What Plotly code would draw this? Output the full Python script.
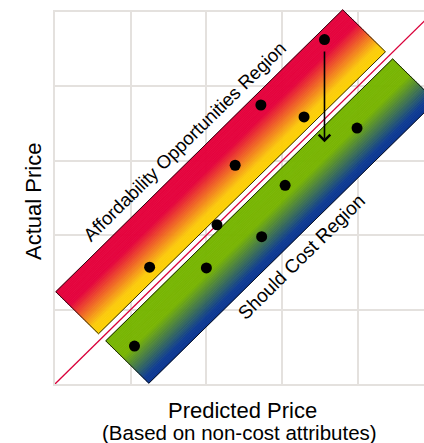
import numpy as np
import plotly.graph_objects as go

# ---- data ----
pred_price = [3.56, 2.72, 3.29, 2.38, 3.99, 3.04, 2.14, 1.25, 2.73, 2.00, 1.05]
actual_price = [4.63, 3.75, 3.59, 2.94, 3.44, 2.67, 2.14, 1.57, 1.98, 1.56, 0.51]

# regions as offsets from the parity line (actual - predicted) and extent along it (actual + predicted)
upper_offsets = [1.23, 0.10]     # outer edge, inner edge
lower_offsets = [-1.23, -0.09]   # outer edge, inner edge
region_extent = [1.25, 8.83]
upper_colors = [(0.0, "#E4003B"), (0.33, "#E4003B"), (0.85, "#FBCB0A"), (1.0, "#FCD000")]   # outer -> inner
lower_colors = [(0.0, "#08338F"), (0.12, "#0C3A92"), (0.62, "#77B400"), (1.0, "#76B500")]   # outer -> inner

parity = [0, 6]
arrow_x = 3.56
arrow_from = 4.49
arrow_to = 3.25

upper_label = "Affordability Opportunities Region"
lower_label = "Should Cost Region"
upper_label_pos = (1.71, 3.26)
lower_label_pos = (3.26, 1.71)

x_title = "Predicted Price"
x_subtitle = "(Based on non-cost attributes)"
y_title = "Actual Price"

# ---- helpers ----
def hex2rgb(h):
    h = h.lstrip("#")
    return np.array([int(h[i:i + 2], 16) for i in (0, 2, 4)], dtype=float)

def interp_color(stops, t):
    for (t0, c0), (t1, c1) in zip(stops[:-1], stops[1:]):
        if t0 <= t <= t1:
            f = 0 if t1 == t0 else (t - t0) / (t1 - t0)
            c = hex2rgb(c0) * (1 - f) + hex2rgb(c1) * f
            return "rgb(%d,%d,%d)" % tuple(np.round(c))
    return stops[-1][1]

def to_xy(s, v):
    return (s - v) / 2.0, (s + v) / 2.0

fig = go.Figure()

# grid subplot (x, y)
fig.add_trace(go.Scatter(x=[None], y=[None], xaxis="x", yaxis="y", showlegend=False, hoverinfo="skip"))

def add_band(offsets, stops, n=60):
    v_out, v_in = offsets
    s0, s1 = region_extent
    for i in range(n):
        t0, t1 = i / n, (i + 1) / n
        va = v_out + (v_in - v_out) * t0
        vb = v_out + (v_in - v_out) * t1
        col = interp_color(stops, (t0 + t1) / 2)
        pts = [to_xy(s0, va), to_xy(s1, va), to_xy(s1, vb), to_xy(s0, vb), to_xy(s0, va)]
        fig.add_trace(go.Scatter(
            x=[p[0] for p in pts], y=[p[1] for p in pts], mode="lines", fill="toself",
            fillcolor=col, line=dict(color=col, width=0.8), xaxis="x2", yaxis="y2",
            showlegend=False, hoverinfo="skip"))
    pts = [to_xy(s0, v_out), to_xy(s1, v_out), to_xy(s1, v_in), to_xy(s0, v_in), to_xy(s0, v_out)]
    fig.add_trace(go.Scatter(
        x=[p[0] for p in pts], y=[p[1] for p in pts], mode="lines",
        line=dict(color="black", width=0.8), xaxis="x2", yaxis="y2",
        showlegend=False, hoverinfo="skip"))

add_band(upper_offsets, upper_colors)
add_band(lower_offsets, lower_colors)

# parity line
fig.add_trace(go.Scatter(x=parity, y=parity, mode="lines", line=dict(color="#D9003A", width=1.3),
                         xaxis="x2", yaxis="y2", showlegend=False, hoverinfo="skip"))

# points
fig.add_trace(go.Scatter(x=pred_price, y=actual_price, mode="markers",
                         marker=dict(color="black", size=11), xaxis="x2", yaxis="y2",
                         showlegend=False, hoverinfo="skip"))

FONT = "Liberation Sans, Arial, Helvetica, sans-serif"

# pixel geometry
W, H = 424, 443
L, R, T, B = 55, 0, 0, 59
plot_h = H - T - B                # 384 px
px_per_y = 74.4
px_per_x = 75.7
y_top_px = 5 * px_per_y           # 372
x_max = (W - L - R) / px_per_x

annotations = [
    dict(x=arrow_x, y=arrow_to, ax=arrow_x, ay=arrow_from, xref="x2", yref="y2", axref="x2", ayref="y2",
         showarrow=True, arrowhead=4, arrowsize=1.4, arrowwidth=1.6, arrowcolor="black", text=""),
    dict(x=upper_label_pos[0], y=upper_label_pos[1], xref="x2", yref="y2", text=upper_label,
         showarrow=False, textangle=-44.5, font=dict(family=FONT, size=18.5, color="black")),
    dict(x=lower_label_pos[0], y=lower_label_pos[1], xref="x2", yref="y2", text=lower_label,
         showarrow=False, textangle=-44.5, font=dict(family=FONT, size=19, color="black")),
    dict(x=(33 - L) / (W - L - R), y=(384 - 202) / plot_h, xref="paper", yref="paper", text=y_title,
         showarrow=False, textangle=-90, font=dict(family=FONT, size=22, color="black"),
         xanchor="center", yanchor="middle"),
    dict(x=(242 - L) / (W - L - R), y=(384 - 410) / plot_h, xref="paper", yref="paper", text=x_title,
         showarrow=False, font=dict(family=FONT, size=22, color="black"), xanchor="center", yanchor="middle"),
    dict(x=(240 - L) / (W - L - R), y=(384 - 432) / plot_h, xref="paper", yref="paper", text=x_subtitle,
         showarrow=False, font=dict(family=FONT, size=20.5, color="black"), xanchor="center", yanchor="middle"),
]

grid = "#E4E1DE"
fig.update_layout(
    width=W, height=H,
    margin=dict(l=L, r=R, t=T, b=B, pad=0),
    paper_bgcolor="white", plot_bgcolor="rgba(0,0,0,0)",
    xaxis=dict(domain=[0, 1], range=[0, x_max], dtick=1, tick0=0, showgrid=True, gridcolor=grid, gridwidth=1.6,
               showticklabels=False, ticks="", zeroline=False, showline=True, linecolor=grid, linewidth=1.6,
               mirror=True, anchor="y", fixedrange=True),
    yaxis=dict(domain=[0, y_top_px / plot_h], range=[0, 5], dtick=1, tick0=0, showgrid=True, gridcolor=grid,
               gridwidth=1.6, showticklabels=False, ticks="", zeroline=False, showline=True, linecolor=grid,
               linewidth=1.6, mirror=False, anchor="x", fixedrange=True),
    xaxis2=dict(domain=[0, 1], range=[0, x_max], visible=False, anchor="y2", fixedrange=True),
    yaxis2=dict(domain=[0, 1], range=[0, plot_h / px_per_y], visible=False, anchor="x2", fixedrange=True),
    annotations=annotations,
    showlegend=False,
)

fig.write_html("out.html", config={"displayModeBar": False},
               post_script="document.body.style.margin='0';document.body.style.overflow='hidden';")
